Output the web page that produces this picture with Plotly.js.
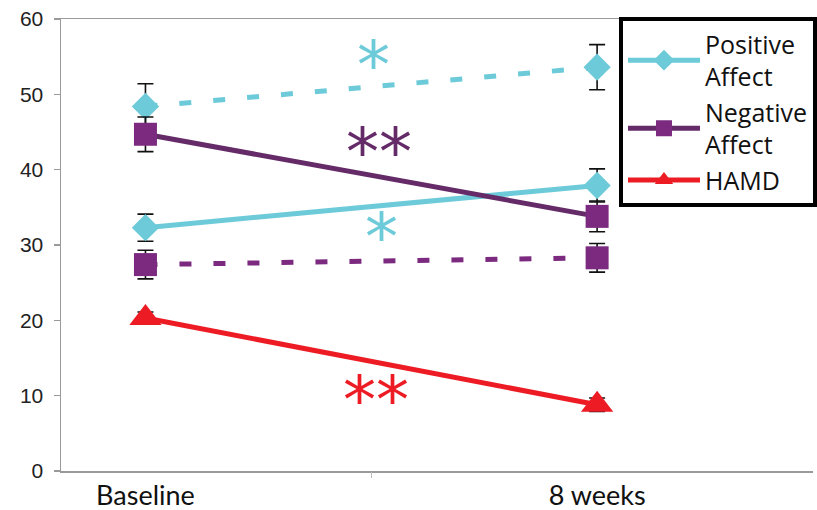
<!DOCTYPE html>
<html><head><meta charset="utf-8">
<script src="https://cdn.plot.ly/plotly-3.0.1.min.js"></script>
<style>html,body{margin:0;padding:0;background:#fff}#chart{width:817px;height:510px}</style>
</head><body><div id="chart"></div>
<script>
var timePoints = [0, 1];
var timeLabels = ["Baseline", "8 weeks"];
var yTicks = [0, 10, 20, 30, 40, 50, 60];

var posAffect = [32.3, 37.9];
var posAffectErr = [1.8, 2.2];
var posAffectB = [48.4, 53.6];
var posAffectBErr = [3.0, 3.0];
var negAffect = [44.7, 33.8];
var negAffectErr = [2.3, 2.05];
var negAffectB = [27.4, 28.3];
var negAffectBErr = [1.9, 1.9];
var hamd = [20.3, 8.8];
var hamdErr = [0.8, 0.9];

var cyan = "#6dcad9", purple = "#7b2a7f", purpleLine = "#652b68", red = "#ed1c24";

function eb(arr){ return {type:"data", array:arr, visible:true, color:"#111", thickness:1.6, width:8}; }

var traces = [
 {x:timePoints, y:posAffectB, mode:"lines+markers", showlegend:false, error_y:eb(posAffectBErr),
  line:{color:cyan, width:5, dash:"12px,22px"}, marker:{symbol:"diamond", size:21, color:cyan}},
 {x:timePoints, y:negAffectB, mode:"lines+markers", showlegend:false, error_y:eb(negAffectBErr),
  line:{color:purple, width:5, dash:"12px,22px"}, marker:{symbol:"square", size:23, color:purple}},
 {x:timePoints, y:posAffect, mode:"lines+markers", name:"Positive<br>Affect", error_y:eb(posAffectErr),
  line:{color:cyan, width:5}, marker:{symbol:"diamond", size:21, color:cyan}},
 {x:timePoints, y:negAffect, mode:"lines+markers", name:"Negative<br>Affect", error_y:eb(negAffectErr),
  line:{color:purpleLine, width:5}, marker:{symbol:"square", size:23, color:purple}},
 {x:timePoints, y:hamd, mode:"lines+markers", name:"HAMD", error_y:eb(hamdErr),
  line:{color:red, width:5}, marker:{symbol:"triangle-up", size:28, color:red}},
 {x:[0.5], y:[0], xaxis:"x2", mode:"markers", marker:{opacity:0}, showlegend:false, hoverinfo:"skip"}
];

var starFont = "DejaVu Sans";
var layout = {
 width:817, height:510,
 margin:{l:61, r:0, t:19, b:39},
 paper_bgcolor:"#fff", plot_bgcolor:"#fff",
 showlegend:true,
 xaxis:{range:[-0.187, 1.478], tickvals:timePoints, ticktext:timeLabels, ticks:"",
   showgrid:false, zeroline:false, showline:true, linecolor:"#9a9a9a", linewidth:1.5, mirror:true,
   tickfont:{family:"Lato", size:27, color:"#111"}, ticklabelstandoff:0},
 xaxis2:{overlaying:"x", range:[-0.187, 1.478], tickvals:[0.5], ticktext:[""], ticks:"outside",
   ticklen:6, tickcolor:"#bbb", tickwidth:1, showgrid:false, zeroline:false, showline:false, side:"bottom"},
 yaxis:{range:[0,60], tickvals:yTicks, ticks:"outside", ticklen:6, tickcolor:"#9a9a9a", tickwidth:1.5,
   showgrid:false, zeroline:false, showline:true, linecolor:"#9a9a9a", linewidth:1.5,
   tickfont:{family:"Liberation Sans", size:21, color:"#222"}, ticklabelstandoff:6},
 legend:{x:0.742, y:1.004, xanchor:"left", yanchor:"top", bgcolor:"#fff", bordercolor:"#000", borderwidth:4,
   font:{family:"Open Sans", size:25, color:"#111"}, itemwidth:72, tracegroupgap:0},
 annotations:[
  {x:0.504, y:55.3, text:"*", showarrow:false, font:{family:starFont, size:66, color:cyan}, yanchor:"middle", yshift:-11},
  {x:0.518, y:43.8, text:"**", showarrow:false, font:{family:starFont, size:66, color:purpleLine}, yanchor:"middle", yshift:-11},
  {x:0.522, y:32.4, text:"*", showarrow:false, font:{family:starFont, size:66, color:cyan}, yanchor:"middle", yshift:-11},
  {x:0.511, y:10.8, text:"**", showarrow:false, font:{family:starFont, size:66, color:red}, yanchor:"middle", yshift:-11}
 ]
};
Plotly.newPlot("chart", traces, layout, {displayModeBar:false, staticPlot:true});
</script></body></html>
